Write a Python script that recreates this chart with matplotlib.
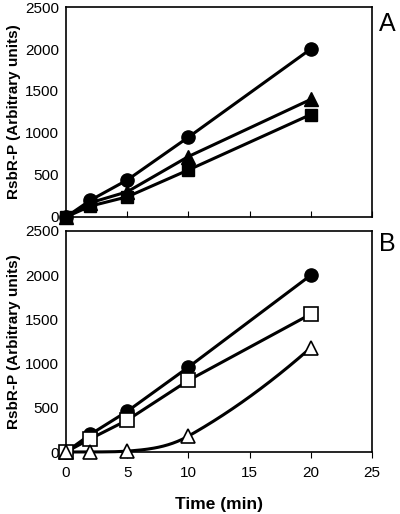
import numpy as np
import matplotlib
matplotlib.use("Agg")
import matplotlib.pyplot as plt

plt.rcParams['font.family'] = ['Liberation Sans', 'DejaVu Sans']

time = [0, 2, 5, 10, 20]
a_circle = [0, 200, 440, 950, 2000]
a_triangle = [0, 170, 300, 720, 1400]
a_square = [0, 130, 240, 560, 1220]

b_circle = [0, 200, 460, 960, 2000]
b_square = [0, 150, 360, 810, 1560]
b_triangle = [0, 0, 10, 180, 1180]

yticks = [0, 500, 1000, 1500, 2000, 2500]
xticks = [0, 5, 10, 15, 20, 25]


def smooth_curve(x, y, n=40):
    """Cubic Hermite smoothing (like a spreadsheet 'smoothed line')."""
    x = np.asarray(x, float); y = np.asarray(y, float)
    d = np.diff(y) / np.diff(x)
    m = np.zeros_like(y)
    for i in range(1, len(x) - 1):
        m[i] = (y[i + 1] - y[i - 1]) / (x[i + 1] - x[i - 1])
        m[i] = min(m[i], 3 * min(d[i - 1], d[i])) if d[i - 1] > 0 and d[i] > 0 else (
            min(m[i], 3 * max(d[i - 1], d[i])))
    m[0] = d[0]
    m[-1] = 2 * d[-1] - m[-2]
    xs, ys = [], []
    for i in range(len(x) - 1):
        h = x[i + 1] - x[i]
        t = np.linspace(0, 1, n)
        h00 = 2 * t ** 3 - 3 * t ** 2 + 1
        h10 = t ** 3 - 2 * t ** 2 + t
        h01 = -2 * t ** 3 + 3 * t ** 2
        h11 = t ** 3 - t ** 2
        xs.append(x[i] + h * t)
        ys.append(h00 * y[i] + h10 * h * m[i] + h01 * y[i + 1] + h11 * h * m[i + 1])
    return np.concatenate(xs), np.concatenate(ys)


fig = plt.figure(figsize=(4.0, 5.14), dpi=100)
W, H = 400, 514
axA = fig.add_axes([66 / W, 1 - 217 / H, 306 / W, 210 / H])
axB = fig.add_axes([66 / W, 1 - 452 / H, 306 / W, 221 / H])

lw = 2.2
ms = 9.5
for ax in (axA, axB):
    ax.set_xlim(0, 25)
    ax.set_ylim(0, 2500)
    ax.set_yticks(yticks)
    ax.set_xticks(xticks)
    for s in ax.spines.values():
        s.set_linewidth(1.2)
    ax.tick_params(axis='y', labelsize=11, length=0, pad=5)
    ax.set_ylabel('RsbR-P (Arbitrary units)', fontsize=11, fontweight='bold', labelpad=3)

axA.tick_params(axis='x', direction='in', length=4, labelbottom=False)
axB.tick_params(axis='x', direction='out', length=4, labelsize=11, pad=6)

axA.plot(time, a_circle, color='black', lw=lw, marker='o', ms=ms, clip_on=False, zorder=3)
axA.plot(time, a_triangle, color='black', lw=lw, marker='^', ms=ms, clip_on=False, zorder=3)
axA.plot(time, a_square, color='black', lw=lw, marker='s', ms=ms - 1, clip_on=False, zorder=3)

axB.plot(time, b_circle, color='black', lw=lw, marker='o', ms=ms, clip_on=False, zorder=3)
axB.plot(time, b_square, color='black', lw=lw, marker='s', ms=ms, mfc='white', mec='black',
         mew=1.2, clip_on=False, zorder=3)
sx, sy = smooth_curve(time, b_triangle)
axB.plot(sx, np.maximum(sy, 0), color='black', lw=lw, clip_on=False, zorder=2)
axB.plot(time, b_triangle, ls='none', marker='^', ms=ms + 1, mfc='white', mec='black',
         mew=1.2, clip_on=False, zorder=3)

axB.set_xlabel('Time (min)', fontsize=12.5, fontweight='bold', labelpad=12)

fig.text(379 / W, 1 - 24 / H, 'A', fontsize=18, va='center', ha='left')
fig.text(379 / W, 1 - 244 / H, 'B', fontsize=18, va='center', ha='left')

fig.savefig('out.png', dpi=100)
